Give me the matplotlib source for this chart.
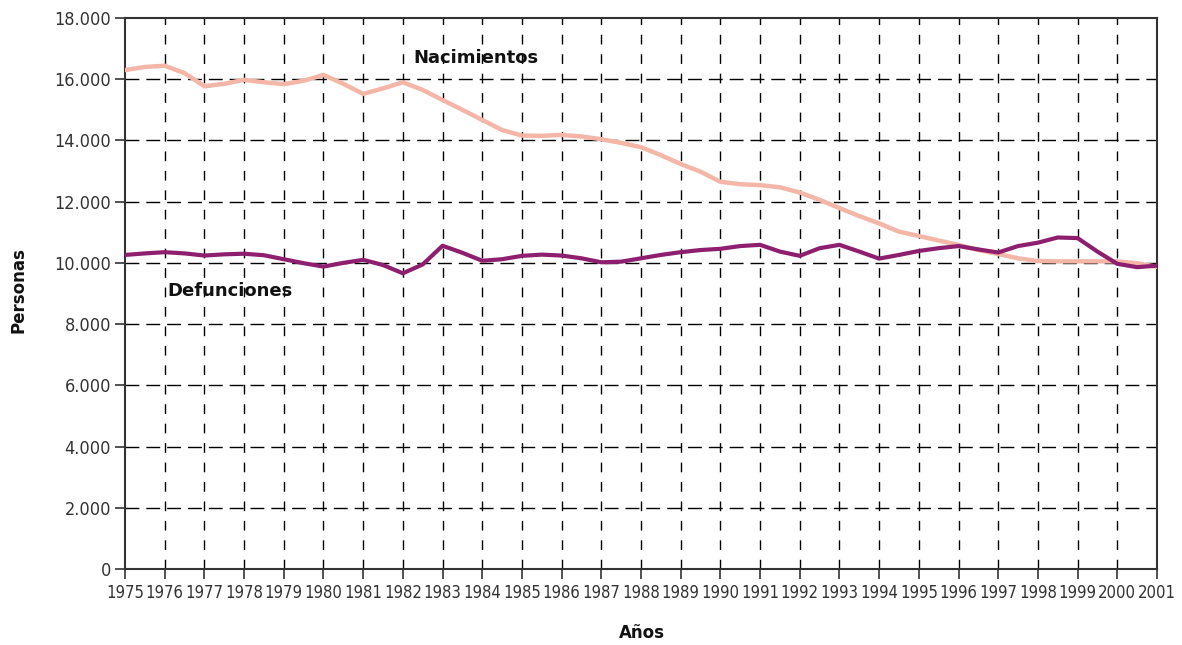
import matplotlib
matplotlib.use("Agg")
import numpy as np
import matplotlib.pyplot as plt
from matplotlib.ticker import FuncFormatter

# Años (cada medio año)
anios = [1975 + 0.5 * i for i in range(53)]

nacimientos = [
    16300, 16400, 16440, 16200, 15770, 15850, 15980, 15900, 15840, 15950,
    16140, 15850, 15520, 15700, 15900, 15650, 15320, 15000, 14670, 14340,
    14160, 14150, 14180, 14130, 14040, 13920, 13780, 13520, 13230, 12980,
    12650, 12570, 12540, 12470, 12300, 12060, 11790, 11530, 11290, 11020,
    10880, 10730, 10590, 10420, 10290, 10150, 10060, 10050, 10050, 10050,
    10050, 9990, 9870,
]

defunciones = [
    10260, 10310, 10350, 10310, 10240, 10280, 10300, 10250, 10120, 9990,
    9880, 10000, 10100, 9930, 9660, 9950, 10560, 10330, 10070, 10120,
    10230, 10270, 10240, 10150, 10020, 10040, 10150, 10260, 10350, 10420,
    10460, 10550, 10590, 10370, 10230, 10480, 10590, 10370, 10140, 10260,
    10390, 10480, 10550, 10440, 10340, 10550, 10660, 10830, 10810, 10370,
    9970, 9860, 9910,
]

anios_ticks = list(range(1975, 2002))
y_ticks = list(range(0, 18001, 2000))

fig = plt.figure(figsize=(11.82, 6.45), dpi=100)
ax = fig.add_axes([0.1058, 0.1178, 0.873, 0.8543])

# Rejilla discontinua negra
for a in anios_ticks[1:-1]:
    ax.axvline(a, color="black", linewidth=1.0, dashes=(7, 7), zorder=1)
for v in y_ticks[1:-1]:
    ax.axhline(v, color="black", linewidth=1.0, dashes=(10, 5), zorder=1)

ax.plot(anios, nacimientos, color="#F4B6A6", linewidth=3.2,
        solid_joinstyle="round", solid_capstyle="round", zorder=3)
ax.plot(anios, defunciones, color="#8E1F6F", linewidth=3.0,
        solid_joinstyle="round", solid_capstyle="round", zorder=4)

ax.text(1983.84, 16690, "Nacimientos", ha="center", va="center",
        fontsize=13, fontweight="bold", color="#111111")
ax.text(1977.64, 9080, "Defunciones", ha="center", va="center",
        fontsize=13, fontweight="bold", color="#111111")

ax.set_xlim(1975, 2001)
ax.set_ylim(0, 18000)
ax.set_xticks(anios_ticks)
ax.set_yticks(y_ticks)
ax.yaxis.set_major_formatter(FuncFormatter(lambda v, p: f"{int(v):,}".replace(",", ".")))

for lab in ax.get_xticklabels() + ax.get_yticklabels():
    lab.set_family("DejaVu Sans")
    lab.set_stretch("condensed")
    lab.set_fontsize(13)
    lab.set_color("#333333")
for lab in ax.get_xticklabels():
    lab.set_fontsize(12)

ax.tick_params(axis="both", direction="out", length=7, width=1.2, color="#333333")
ax.tick_params(axis="x", pad=4)
ax.tick_params(axis="y", pad=3)

for s in ax.spines.values():
    s.set_color("#333333")
    s.set_linewidth(1.5)

fig.text(0.016, 0.55, "Personas", rotation=90, ha="center", va="center",
         fontsize=12, fontweight="bold", color="#111111")
fig.text(0.543, 0.018, "Años", ha="center", va="center",
         fontsize=12, fontweight="bold", color="#111111")

fig.savefig("out.png", dpi=100)
